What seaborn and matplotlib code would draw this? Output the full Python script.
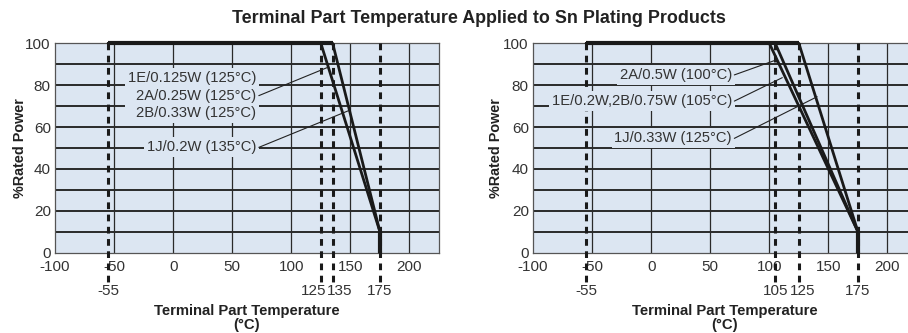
import matplotlib
matplotlib.use("Agg")
import matplotlib.pyplot as plt
import seaborn as sns
import pandas as pd
import numpy as np

sns.set_theme(style="white")
plt.rcParams['font.family'] = ['Liberation Sans', 'DejaVu Sans']

# ---- data ----
title = "Terminal Part Temperature Applied to Sn Plating Products"
x_ticks = [-100, -50, 0, 50, 100, 150, 200]
y_ticks = [0, 20, 40, 60, 80, 100]
min_temp = -55
max_temp = 175
power_at_max = 10

left_knees = [125, 135]
left_marks = [-55, 125, 135, 175]
left_mark_shift = [0, -6, 6, 0]
left_labels = ["1E/0.125W (125°C)\n2A/0.25W (125°C)\n2B/0.33W (125°C)", "1J/0.2W (135°C)"]
left_label_xy = [(70.5, 75), (70.5, 50.3)]
left_leader_end = [(130.8, 88.5), (149.2, 68)]

right_knees = [100, 105, 125]
right_marks = [-55, 105, 125, 175]
right_mark_shift = [0, 0, 3, 0]
right_labels = ["2A/0.5W (100°C)", "1E/0.2W,2B/0.75W (105°C)", "1J/0.33W (125°C)"]
right_label_xy = [(68.4, 84.9), (68.4, 72.4), (68.4, 54.6)]
right_leader_end = [(105.6, 92), (111, 83.6), (140.5, 74.5)]

BG = "#dce6f2"
GRID = "#2a2a2a"
TXT = "#333333"
FS = 11

fig = plt.figure(figsize=(9.08, 3.33), dpi=100)
fig.text(0.528, 0.945, title, ha="center", va="center", fontsize=12.9,
         fontweight="bold", color="#222222")

def panel(ax, knees, marks, shifts, labels, label_xy, leader_end, ypad):
    ax.set_facecolor(BG)
    ax.set_xlim(-100, 225)
    ax.set_ylim(0, 100)
    # grid
    for y in range(10, 100, 10):
        ax.axhline(y, color=GRID, lw=1.4, zorder=1)
    for x in [-50, 0, 50, 100, 150, 200]:
        ax.axvline(x, color=GRID, lw=0.9, zorder=1)
    for s in ax.spines.values():
        s.set_color("#555555")
        s.set_linewidth(0.9)
    # curves
    for k in knees:
        df = pd.DataFrame({"temp": [min_temp, k, max_temp, max_temp],
                           "power": [100, 100, power_at_max, 0]})
        sns.lineplot(data=df, x="temp", y="power", ax=ax, color="#1a1a1a",
                     lw=2.0, sort=False, estimator=None, zorder=4, clip_on=False)
    ax.plot([min_temp, max(knees)], [100, 100], color="#1a1a1a", lw=3, zorder=5,
            clip_on=False, solid_capstyle="butt")
    ax.plot([max_temp, max_temp], [power_at_max, 0], color="#1a1a1a", lw=3, zorder=5,
            solid_capstyle="butt")
    # dashed markers
    for m, sh in zip(marks, shifts):
        ax.plot([m, m], [100, -14], color="#1a1a1a", lw=2.2, ls=(0, (2.2, 1.8)),
                clip_on=False, zorder=3)
        ax.text(m + sh, -18.5, str(m), ha="center", va="center", fontsize=FS,
                color=TXT, clip_on=False)
    # labels
    for lab, (tx, ty), (ex, ey) in zip(labels, label_xy, leader_end):
        ax.text(tx, ty, lab, ha="right", va="center", fontsize=10.6, color=TXT,
                linespacing=1.3, zorder=6,
                bbox=dict(boxstyle="square,pad=0.2", fc=BG, ec="none"))
        ax.plot([tx + 2, ex], [ty, ey], color="#222222", lw=0.8, zorder=6)
    ax.set_xticks(x_ticks)
    ax.set_xticklabels([str(v) for v in x_ticks])
    ax.set_yticks(y_ticks)
    ax.tick_params(axis="both", length=0, labelsize=FS, colors=TXT)
    ax.tick_params(axis="x", pad=5.5)
    ax.tick_params(axis="y", pad=3)
    ax.set_xlabel("Terminal Part Temperature\n(°C)", fontsize=10.7, fontweight="bold",
                  color="#222222", labelpad=21, linespacing=1.0)
    ax.set_ylabel("%Rated Power", fontsize=10.4, fontweight="bold", color="#222222",
                  labelpad=ypad)

ax1 = fig.add_axes([55/908, 80.3/333, 384/908, 209.4/333])
ax2 = fig.add_axes([533/908, 80.3/333, 384/908, 209.4/333])
panel(ax1, left_knees, left_marks, left_mark_shift, left_labels, left_label_xy, left_leader_end, -1)
panel(ax2, right_knees, right_marks, right_mark_shift, right_labels, right_label_xy, right_leader_end, 0)

fig.savefig("out.png", dpi=100)
